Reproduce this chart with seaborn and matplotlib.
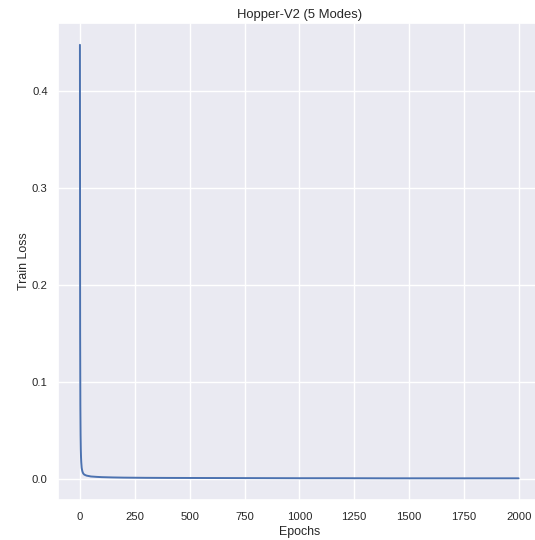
import matplotlib
matplotlib.use("Agg")
import matplotlib.pyplot as plt
import seaborn as sns
import pandas as pd

# Training loss at selected epochs
epochs = [0, 1, 2, 3, 4, 5, 6, 8, 10, 12, 15, 20, 30, 50, 75, 100, 150, 200,
          300, 400, 600, 800, 1000, 1200, 1400, 1600, 1800, 1999]
train_loss = [0.448, 0.150, 0.075, 0.045, 0.030, 0.022, 0.017, 0.011, 0.0085,
              0.0068, 0.0052, 0.0040, 0.0030, 0.0021, 0.0017, 0.0014, 0.0011,
              0.0009, 0.0007, 0.0006, 0.0005, 0.0004, 0.0003, 0.0003, 0.0002,
              0.0002, 0.0002, 0.0002]
x_ticks = [0, 250, 500, 750, 1000, 1250, 1500, 1750, 2000]

df = pd.DataFrame({"Epochs": epochs, "Train Loss": train_loss})

sns.set_theme(font="Liberation Sans", rc={
    "axes.titlesize": 9.4, "axes.labelsize": 8.9,
    "xtick.labelsize": 8.1, "ytick.labelsize": 8.1,
    "xtick.major.size": 0, "ytick.major.size": 0,
    "xtick.major.pad": 8.8, "ytick.major.pad": 7.4,
    "axes.titlepad": 3.4,
    "grid.linewidth": 1.0,
})
fig = plt.figure(figsize=(5.35, 5.4), dpi=100)
ax = fig.add_axes([0.1084, 0.0741, 0.902, 0.883])
sns.lineplot(data=df, x="Epochs", y="Train Loss", ax=ax, linewidth=1.4)
ax.set_title("Hopper-V2 (5 Modes)")
ax.set_xticks(x_ticks)
ax.set_xlabel("Epochs", labelpad=2.6)
ax.set_ylabel("Train Loss", labelpad=1.6)
fig.savefig("out.png", dpi=100)
